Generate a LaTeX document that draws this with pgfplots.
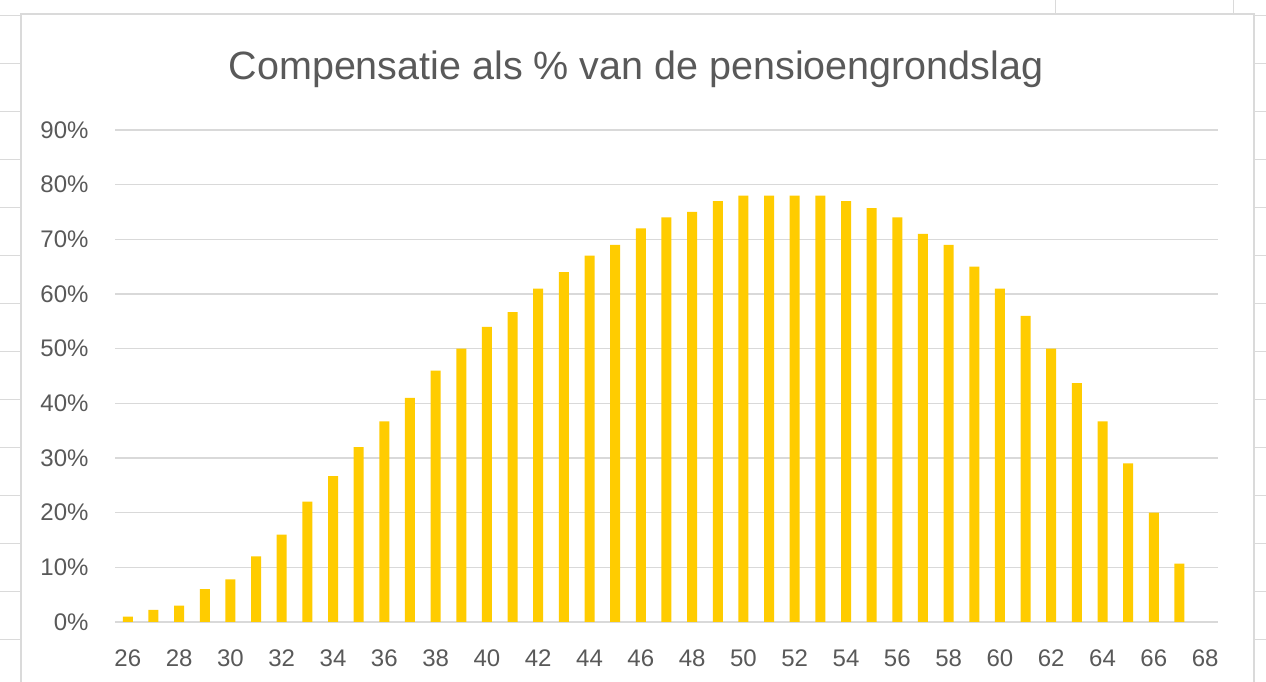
\documentclass[border=0pt]{standalone}
\usepackage{pgfplots}
\pgfplotsset{compat=1.18}
\usepackage{fontspec}
\setmainfont{Liberation Sans}
\definecolor{bargold}{HTML}{FFCC00}
\definecolor{txtgray}{HTML}{595959}
\definecolor{gridgray}{HTML}{D9D9D9}
\definecolor{cellgray}{HTML}{DADADA}
\begin{document}
\begin{tikzpicture}[x=1pt,y=1pt]
\useasboundingbox (0,0) rectangle (1266,682);
\fill[white] (0,0) rectangle (1266,682);
% spreadsheet cell lines outside the chart
\foreach \yy in {16,64,112,160,208,256,304,352,400,448,496,544,592,640}{
  \draw[cellgray,line width=1pt] (0,682-\yy) -- (21,682-\yy);
  \draw[cellgray,line width=1pt] (1254,682-\yy) -- (1266,682-\yy);
}
\draw[cellgray,line width=1pt] (1055,682) -- (1055,668);
\draw[cellgray,line width=1pt] (1233,682) -- (1233,668);
% chart frame
\draw[cellgray,line width=1.2pt] (21,-5) -- (21,668) -- (1254,668) -- (1254,-5);
\begin{axis}[
  at={(115pt,60pt)}, anchor=south west,
  scale only axis, width=1103pt, height=492pt,
  xmin=25.5, xmax=68.5, ymin=0, ymax=90,
  xtick={26,28,...,68}, ytick={0,10,...,90},
  yticklabel={\pgfmathprintnumber{\tick}\%},
  axis line style={draw=none},
  major tick length=0pt,
  ymajorgrids, grid style={gridgray,line width=1.3pt},
  tick label style={font=\fontsize{24}{28}\selectfont, text=txtgray},
  /pgf/number format/assume math mode=true,
  xticklabel style={yshift=-24pt},
  yticklabel style={xshift=-23pt},
  clip=false,
]
\addplot[ybar, bar width=10pt, fill=bargold, draw=none] coordinates {
(26,1) (27,2.2) (28,3) (29,6) (30,7.8) (31,12) (32,16) (33,22) (34,26.7) (35,32)
(36,36.7) (37,41) (38,46) (39,50) (40,54) (41,56.7) (42,61) (43,64) (44,67) (45,69)
(46,72) (47,74) (48,75) (49,77) (50,78) (51,78) (52,78) (53,78) (54,77) (55,75.7)
(56,74) (57,71) (58,69) (59,65) (60,61) (61,56) (62,50) (63,43.7) (64,36.7) (65,29)
(66,20) (67,10.7)
};
\end{axis}
\node[text=txtgray, font=\fontsize{39.5}{45}\selectfont] at (636,613) {Compensatie als \% van de pensioengrondslag};
\end{tikzpicture}
\end{document}
